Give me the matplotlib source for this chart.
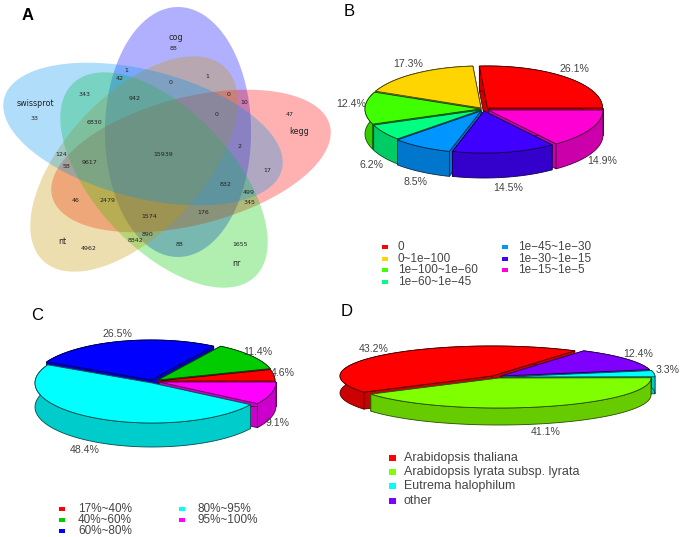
import numpy as np
import matplotlib
matplotlib.use('Agg')
import matplotlib.pyplot as plt
from matplotlib.colors import to_rgb

plt.rcParams['font.family'] = ['Liberation Sans', 'DejaVu Sans']

# panel A
venn_sets = ['cog', 'kegg', 'nr', 'nt', 'swissprot']
venn_colors = ['#0000ff', '#ff0000', '#00cc00', '#c89600', '#0096f0']
venn_counts = ['88', '1', '0', '0', '10', '47', '0', '2', '17', '1', '42', '942', '343', '6830',
               '33', '124', '58', '9617', '15939', '832', '499', '345', '176', '46', '2479',
               '1574', '890', '8842', '88', '1655', '4962']

# panel B
b_labels = ['0', '0~1e\u2212100', '1e\u2212100~1e\u221260', '1e\u221260~1e\u221245',
            '1e\u221245~1e\u221230', '1e\u221230~1e\u221215', '1e\u221215~1e\u22125']
b_values = [26.1, 17.3, 12.4, 6.2, 8.5, 14.5, 14.9]
b_colors = ['#ff0000', '#ffd500', '#40ff00', '#00ff80', '#0095ff', '#4000ff', '#ff00d4']

# panel C
c_labels = ['17%~40%', '40%~60%', '60%~80%', '80%~95%', '95%~100%']
c_values = [4.6, 11.4, 26.5, 48.4, 9.1]
c_colors = ['#ff0000', '#00cc00', '#0000ff', '#00ffff', '#ff00ff']

# panel D
d_labels = ['Arabidopsis thaliana', 'Arabidopsis lyrata subsp. lyrata', 'Eutrema halophilum', 'other']
d_values = [43.2, 41.1, 3.3, 12.4]
d_colors = ['#ff0000', '#80ff00', '#00ffff', '#8000ff']

fig = plt.figure(figsize=(6.83, 5.37), dpi=100)
ax = fig.add_axes([0, 0, 1, 1])
ax.set_xlim(0, 683)
ax.set_ylim(537, 0)
ax.axis('off')


def venn_ellipse(cx, cy, angle, color):
    # the source image is stretched sideways, so rotate first and scale x after
    t = np.linspace(0, 2 * np.pi, 200)
    a = np.radians(angle)
    x = 125 * np.cos(t) * np.cos(a) - 63 * np.sin(t) * np.sin(a)
    y = 125 * np.cos(t) * np.sin(a) + 63 * np.sin(t) * np.cos(a)
    ax.fill(cx + 1.16 * x, cy - y, color=color, alpha=0.31, lw=0)


venn_xy = [(178, 132), (191, 161), (164, 180), (134, 164), (143, 134)]
venn_ang = [90, 18, -54, 54, -18]
for (x, y), ang, col in zip(venn_xy, venn_ang, venn_colors):
    venn_ellipse(x, y, ang, col)

set_pos = [(176, 37), (299, 131), (236, 264), (62, 241), (35, 104)]
for name, (x, y) in zip(venn_sets, set_pos):
    ax.text(x, y, name, family='DejaVu Sans', fontsize=5.8, color='#222222', ha='center', va='center')

count_pos = [(174, 48), (207, 76), (171, 83), (217, 114), (244, 103), (290, 114), (229, 94), (240, 146),
             (267, 170), (126, 70), (120, 79), (135, 99), (85, 95), (94, 123), (35, 118), (61, 154),
             (66, 167), (89, 162), (163, 154), (226, 185), (249, 193), (249, 203), (203, 213), (76, 201),
             (107, 201), (149, 217), (147, 235), (135, 240), (180, 244), (240, 244), (89, 248)]
for txt, (x, y) in zip(venn_counts, count_pos):
    ax.text(x, y, txt, family='DejaVu Sans', fontsize=4.5, color='#222222', ha='center', va='center')


def pie3d(values, colors, start, cx, cy, rx, ry, depth, offsets):
    fr = np.cumsum([0] + list(values)) / sum(values) * 360 + start
    parts = []
    for i, col in enumerate(colors):
        mid = np.radians((fr[i] + fr[i + 1]) / 2)
        parts.append((np.sin(mid), i))
    # back wedges first
    for _, i in sorted(parts, reverse=True):
        t = np.radians(np.linspace(fr[i], fr[i + 1], 80))
        ox = cx + offsets[i][0]
        oy = cy + offsets[i][1]
        ex = ox + rx * np.cos(t)
        ey = oy - ry * np.sin(t)
        rgb = np.array(to_rgb(colors[i]))
        side = rgb * 0.8
        edge = rgb * 0.3
        for k in (0, -1):
            ax.fill([ox, ex[k], ex[k], ox], [oy, ey[k], ey[k] + depth, oy + depth],
                    facecolor=side, edgecolor=edge, lw=0.6)
        ax.fill(np.r_[ex, ex[::-1]], np.r_[ey, ey[::-1] + depth], facecolor=side, edgecolor=edge, lw=0.6)
        ax.fill(np.r_[ox, ex], np.r_[oy, ey], facecolor=rgb, edgecolor=edge, lw=0.6)


def pct_labels(values, pos):
    for v, (x, y) in zip(values, pos):
        ax.text(x, y, f'{v}%', fontsize=7.6, color='#444444', ha='center', va='center')


def legend(labels, colors, pos, size, dx, w, h):
    for lab, col, (x, y) in zip(labels, colors, pos):
        ax.fill([x - w / 2, x + w / 2, x + w / 2, x - w / 2], [y - h / 2, y - h / 2, y + h / 2, y + h / 2],
                color=col, lw=0)
        ax.text(x + dx, y, lab, fontsize=size, color='#444444', ha='left', va='center')


pie3d(b_values, b_colors, 0, 484, 109, 115, 42, 25,
      [(3.5, -1), (-3, -1), (-4, 0), (-3, 1), (-3, 2), (0, 2), (4, 1)])
pct_labels(b_values, [(574, 69), (408, 64), (351, 104), (372, 165), (415, 182), (508, 188), (602, 161)])
legend(b_labels, b_colors, [(385, 247), (385, 259), (385, 270), (385, 282), (505, 247), (505, 259), (505, 270)],
       8.5, 13, 5.5, 4.5)

pie3d(c_values, c_colors, 0, 157, 381, 117, 40, 24, [(1, 0), (1, -1), (-6, -1), (-5, 2), (2, 1)])
pct_labels(c_values, [(283, 373), (258, 352), (117, 334), (85, 450), (278, 423)])
legend(c_labels, c_colors, [(62, 509), (62, 520), (62, 531), (182, 509), (182, 520)], 8.5, 16, 5.5, 4.5)

pie3d(d_values, d_colors, 57, 498, 377, 152, 30, 17, [(-6, -1), (1, 1), (5, 0), (3, -1)])
pct_labels(d_values, [(374, 349), (546, 432), (668, 370), (638, 354)])
legend(d_labels, d_colors, [(392, 458), (392, 472), (392, 486), (392, 501)], 9, 12, 7, 6)

ax.text(28, 15, 'A', fontsize=12, fontweight='bold', color='black', ha='center', va='center')
ax.text(349, 11, 'B', fontsize=12, color='black', ha='center', va='center')
ax.text(37, 315, 'C', fontsize=12, color='black', ha='center', va='center')
ax.text(347, 311, 'D', fontsize=12, color='black', ha='center', va='center')

fig.savefig('out.png', dpi=100)
